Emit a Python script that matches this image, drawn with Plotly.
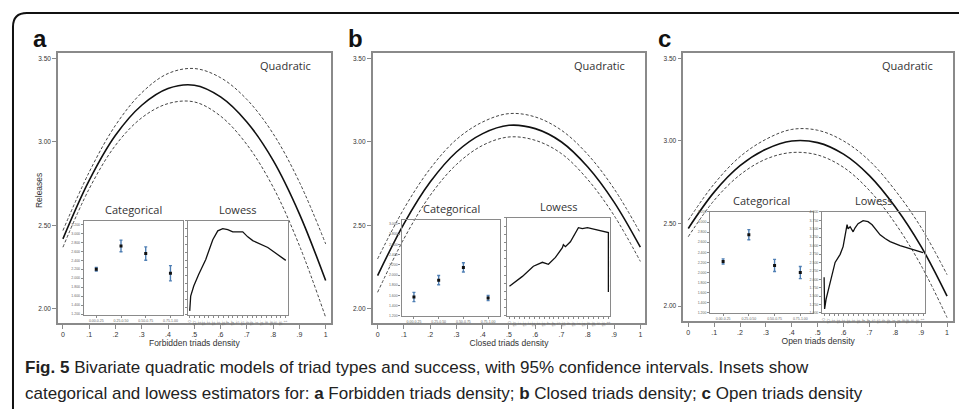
import plotly.graph_objects as go

W, H = 959, 411

# ---------------- data ----------------
x_grid = [0, .1, .2, .3, .4, .5, .6, .7, .8, .9, 1]
main_xtick_vals = [0, .1, .2, .3, .4, .5, .6, .7, .8, .9, 1]
main_xtick_text = ["0", ".1", ".2", ".3", ".4", ".5", ".6", ".7", ".8", ".9", "1"]
main_ytick_vals = [2.0, 2.5, 3.0, 3.5]
main_ytick_text = ["2.00", "2.50", "3.00", "3.50"]

fit_a = [2.42, 2.77, 3.04, 3.22, 3.32, 3.34, 3.27, 3.12, 2.89, 2.57, 2.17]
upper_a = [2.47, 2.82, 3.10, 3.295, 3.41, 3.44, 3.385, 3.255, 3.05, 2.76, 2.39]
lower_a = [2.37, 2.72, 2.98, 3.145, 3.23, 3.24, 3.155, 2.985, 2.73, 2.38, 1.95]

fit_b = [2.20, 2.51, 2.76, 2.94, 3.05, 3.10, 3.08, 3.00, 2.85, 2.64, 2.37]
upper_b = [2.30, 2.60, 2.84, 3.015, 3.12, 3.17, 3.15, 3.07, 2.925, 2.72, 2.455]
lower_b = [2.10, 2.42, 2.68, 2.865, 2.98, 3.03, 3.01, 2.93, 2.775, 2.56, 2.285]

fit_c = [2.47, 2.69, 2.85, 2.95, 3.00, 2.99, 2.92, 2.79, 2.60, 2.36, 2.06]
upper_c = [2.52, 2.74, 2.905, 3.01, 3.07, 3.065, 3.00, 2.88, 2.70, 2.475, 2.19]
lower_c = [2.42, 2.64, 2.795, 2.89, 2.93, 2.915, 2.84, 2.70, 2.50, 2.245, 1.93]

x_titles = ["Forbidden triads density", "Closed triads density", "Open triads density"]
panel_letters = ["a", "b", "c"]

# categorical insets
cat_pos = [1, 2, 3, 4]
cat_labels = ["0.00-0.25", "0.25-0.50", "0.50-0.75", "0.75-1.00"]
cat_a = [2.20, 2.72, 2.55, 2.11]
cat_err_a = [0.04, 0.13, 0.15, 0.17]
cat_b = [1.57, 1.90, 2.15, 1.55]
cat_err_b = [0.09, 0.09, 0.09, 0.05]
cat_c = [2.22, 2.75, 2.14, 2.00]
cat_err_c = [0.05, 0.10, 0.12, 0.12]

# lowess insets
low_x_a = [0.0, 0.01, 0.042, 0.094, 0.167, 0.24, 0.292, 0.344, 0.396, 0.448, 0.552, 0.604, 0.656, 0.813, 1.0]
low_y_a = [1.13, 1.60, 1.92, 2.30, 2.77, 3.40, 3.68, 3.75, 3.72, 3.65, 3.65, 3.49, 3.37, 3.15, 2.74]

low_x_b = [0.0, 0.131, 0.242, 0.333, 0.394, 0.465, 0.535, 0.545, 0.566, 0.616, 0.697, 0.737, 0.788, 0.838, 0.919, 1.0, 1.0]
low_y_b = [1.91, 2.21, 2.52, 2.64, 2.58, 2.79, 3.09, 3.18, 3.12, 3.27, 3.70, 3.67, 3.70, 3.67, 3.61, 3.55, 1.73]

low_x_c = [0.0, 0.005, 0.02, 0.061, 0.111, 0.162, 0.192, 0.232, 0.242, 0.263, 0.293, 0.313, 0.343, 0.394, 0.444, 0.485, 0.566, 0.616, 0.667, 0.768, 1.0]
low_y_c = [2.06, 1.12, 1.41, 1.91, 2.50, 2.74, 2.97, 3.62, 3.50, 3.56, 3.41, 3.53, 3.65, 3.74, 3.71, 3.62, 3.32, 3.21, 3.12, 3.00, 2.79]

low_tick_vals = [i * 0.05 for i in range(21)]
low_tick_text = ["0", ".05", ".1", ".15", ".2", ".25", ".3", ".35", ".4", ".45", ".5",
                 ".55", ".6", ".65", ".7", ".75", ".8", ".85", ".9", ".95", "1"]

caption_1 = ("<b>Fig. 5</b> Bivariate quadratic models of triad types and success, "
             "with 95% confidence intervals. Insets show")
caption_2 = ("categorical and lowess estimators for: <b>a</b> Forbidden triads density; "
             "<b>b</b> Closed triads density; <b>c</b> Open triads density")

# ---------------- layout geometry (pixels) ----------------
FONT = "Liberation Sans, Arial, sans-serif"
LABEL_FONT = "Open Sans, sans-serif"
FRAME = "#8a8a8a"
TXT = "#333333"

def px_dom_x(a, b):
    return [a / W, b / W]

def px_dom_y(top, bottom):
    return [1 - bottom / H, 1 - top / H]

mains = [
    dict(x=(57, 330), y=(52, 324), xr=[-0.019, 1.019], yr=[1.917, 3.530]),
    dict(x=(372, 645), y=(52, 324), xr=[-0.019, 1.019], yr=[1.917, 3.530]),
    dict(x=(683, 953), y=(52, 322), xr=[-0.0193, 1.023], yr=[1.91, 3.53]),
]
cat_boxes = [((83, 182), (221, 316), [1.18, 3.28]),
             ((401, 500), (220, 317), [1.20, 3.08]),
             ((710, 813), (212, 314), [1.20, 3.20])]
low_boxes = [((187, 287), (221, 316)),
             ((507, 610), (218, 317)),
             ((822, 925), (212, 314))]

fits = [(fit_a, upper_a, lower_a), (fit_b, upper_b, lower_b), (fit_c, upper_c, lower_c)]
cats = [(cat_a, cat_err_a), (cat_b, cat_err_b), (cat_c, cat_err_c)]
lows = [(low_x_a, low_y_a), (low_x_b, low_y_b), (low_x_c, low_y_c)]

fig = go.Figure()
layout = dict(
    width=W, height=H, margin=dict(l=0, r=0, t=0, b=0),
    paper_bgcolor="white", plot_bgcolor="rgba(0,0,0,0)", showlegend=False,
    font=dict(family=FONT, color=TXT),
)

annotations = []
shapes = []

for i in range(3):
    m = mains[i]
    n = i + 1
    xa = "x" if n == 1 else f"x{n}"
    ya = "y" if n == 1 else f"y{n}"
    fit, up, lo = fits[i]
    for ys, dash, wdt in [(up, "3px,2px", 1.0), (lo, "3px,2px", 1.0), (fit, "solid", 1.6)]:
        fig.add_trace(go.Scatter(x=x_grid, y=ys, mode="lines", xaxis=xa, yaxis=ya,
                                 line=dict(color="#111111" if dash == "solid" else "#444444",
                                           width=wdt, dash=dash, shape="spline"),
                                 hoverinfo="skip"))
    layout["xaxis" if n == 1 else f"xaxis{n}"] = dict(
        domain=px_dom_x(*m["x"]), range=m["xr"], anchor=ya,
        tickvals=main_xtick_vals, ticktext=main_xtick_text, ticks="outside", ticklen=4,
        tickcolor=FRAME, tickfont=dict(size=7, color=TXT), showgrid=False, zeroline=False,
        showline=True, linecolor=FRAME, linewidth=1.5, mirror=True,
        title=dict(text=x_titles[i], font=dict(size=8.5, color=TXT), standoff=3),
    )
    layout["yaxis" if n == 1 else f"yaxis{n}"] = dict(
        domain=px_dom_y(*m["y"]), range=m["yr"], anchor=xa,
        tickvals=main_ytick_vals, ticktext=main_ytick_text, ticks="outside", ticklen=4,
        tickcolor=FRAME, tickfont=dict(size=6.5, color=TXT), showgrid=False, zeroline=False,
        showline=True, linecolor=FRAME, linewidth=1.5, mirror=True,
    )
    annotations.append(dict(text=f"<b>{panel_letters[i]}</b>", xref="paper", yref="paper",
                            x=(m["x"][0] - 27) / W, y=1 - 37 / H, xanchor="left", yanchor="middle",
                            showarrow=False, font=dict(size=24, family="Liberation Sans, Arial, sans-serif",
                                                       color="#111111")))
    annotations.append(dict(text="Quadratic", xref="paper", yref="paper",
                            x=(m["x"][1] - 18) / W, y=1 - 64 / H, xanchor="right", yanchor="middle",
                            showarrow=False, font=dict(size=11, family=LABEL_FONT, color=TXT)))

annotations.append(dict(text="Releases", xref="paper", yref="paper", x=38 / W, y=1 - 190 / H,
                        textangle=-90, showarrow=False, xanchor="center", yanchor="middle",
                        font=dict(size=8.5, color=TXT)))

axn = 4
for i in range(3):
    (cx, cy, cyr) = cat_boxes[i]
    vals, errs = cats[i]
    xa, ya = f"x{axn}", f"y{axn}"
    fig.add_trace(go.Scatter(x=cat_pos, y=vals, mode="markers", xaxis=xa, yaxis=ya,
                             marker=dict(color="#111111", size=3, symbol="square"),
                             error_y=dict(type="data", array=errs, visible=True,
                                          color="#4f7fb4", thickness=1.4, width=1.5),
                             hoverinfo="skip"))
    layout[f"xaxis{axn}"] = dict(
        domain=px_dom_x(*cx), range=[0.5, 4.5], anchor=ya,
        tickvals=cat_pos, ticktext=cat_labels, ticks="outside", ticklen=2, tickcolor=FRAME,
        tickfont=dict(size=3.5, color="#666666"), showgrid=False, zeroline=False,
        showline=True, linecolor=FRAME, linewidth=1.3, mirror=True)
    layout[f"yaxis{axn}"] = dict(
        domain=px_dom_y(*cy), range=cyr, anchor=xa, dtick=0.2, tick0=1.2, tickformat=".3f",
        ticks="outside", ticklen=2, tickcolor=FRAME,
        tickfont=dict(size=3.5, color="#666666"), showgrid=False, zeroline=False,
        showline=True, linecolor=FRAME, linewidth=1.3, mirror=True)
    annotations.append(dict(text="Categorical", xref="paper", yref="paper",
                            x=(cx[0] + cx[1]) / 2 / W, y=1 - (cy[0] - 2) / H,
                            xanchor="center", yanchor="bottom", showarrow=False,
                            font=dict(size=11, family=LABEL_FONT, color=TXT)))
    axn += 1

    (lx, ly) = low_boxes[i]
    lxs, lys = lows[i]
    xa, ya = f"x{axn}", f"y{axn}"
    fig.add_trace(go.Scatter(x=lxs, y=lys, mode="lines", xaxis=xa, yaxis=ya,
                             line=dict(color="#111111", width=1.3), hoverinfo="skip"))
    layout[f"xaxis{axn}"] = dict(
        domain=px_dom_x(*lx), range=[-0.02, 1.02], anchor=ya,
        tickvals=low_tick_vals, ticktext=low_tick_text, ticks="outside", ticklen=2,
        tickcolor=FRAME, tickfont=dict(size=3.5, color="#666666"), showgrid=False,
        zeroline=False, showline=True, linecolor=FRAME, linewidth=1.3, mirror=True)
    layout[f"yaxis{axn}"] = dict(
        domain=px_dom_y(*ly), range=[1.0, 4.0], anchor=xa, dtick=0.25, tickformat=".3f",
        ticks="outside", ticklen=2, tickcolor=FRAME, showticklabels=(i == 2),
        tickfont=dict(size=3.5, color="#666666"), showgrid=False, zeroline=False,
        showline=True, linecolor=FRAME, linewidth=1.3, mirror=True)
    annotations.append(dict(text="Lowess", xref="paper", yref="paper",
                            x=(lx[0] + lx[1]) / 2 / W, y=1 - (ly[0] - 2) / H,
                            xanchor="center", yanchor="bottom", showarrow=False,
                            font=dict(size=11, family=LABEL_FONT, color=TXT)))
    axn += 1

annotations.append(dict(text=caption_1, xref="paper", yref="paper", x=22 / W, y=1 - 369 / H,
                        xanchor="left", yanchor="middle", showarrow=False,
                        font=dict(size=17, family=FONT, color="#222222")))
annotations.append(dict(text=caption_2, xref="paper", yref="paper", x=22 / W, y=1 - 395 / H,
                        xanchor="left", yanchor="middle", showarrow=False,
                        font=dict(size=17, family=FONT, color="#222222")))

x0, ytop, r = 12 / W, 1 - 11 / H, 14
path = (f"M {x0},0 L {x0},{1 - (11 + r) / H} Q {x0},{ytop} {(12 + r) / W},{ytop} "
        f"L 1.01,{ytop}")
shapes.append(dict(type="path", xref="paper", yref="paper", path=path,
                   line=dict(color="#111111", width=2)))

layout["annotations"] = annotations
layout["shapes"] = shapes
fig.update_layout(**layout)
fig.write_html("out.html")
